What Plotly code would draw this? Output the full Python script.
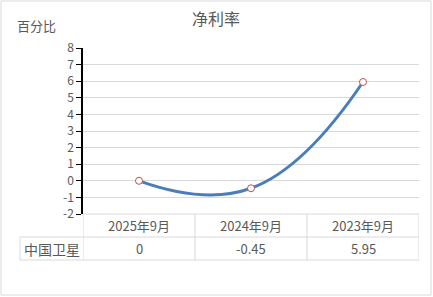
import plotly.graph_objects as go

categories = ["2025年9月", "2024年9月", "2023年9月"]
values = [0, -0.45, 5.95]
value_labels = ["0", "-0.45", "5.95"]
series_name = "中国卫星"
y_ticks = list(range(-2, 9))

FONT = "Noto Sans CJK SC, Microsoft YaHei, sans-serif"
GRAY = "#595959"
GRID = "#d9d9d9"

xs = list(range(len(categories)))

fig = go.Figure()
fig.add_trace(go.Scatter(
    x=xs, y=values, mode="lines+markers",
    line=dict(color="#4a7ebb", width=3, shape="spline", smoothing=1.3),
    marker=dict(symbol="circle", size=7, color="white",
                line=dict(color="#c0504d", width=1)),
    showlegend=False, hoverinfo="skip",
))

# plot-area pixel geometry
L, R, T, B = 83, 14, 48, 83
W, H = 433, 297
PH = H - T - B
def py(p):
    return (H - B - p) / PH
def px(p):
    return (p - L) / (W - L - R)

shapes = []
row1 = py(237)
row2 = py(260)
shapes.append(dict(type="line", xref="x", yref="paper", x0=-0.5, x1=2.5, y0=0, y1=0,
                   line=dict(color=GRID, width=1)))
shapes.append(dict(type="line", xref="paper", yref="paper", x0=px(20), x1=1, y0=row1, y1=row1,
                   line=dict(color=GRID, width=1)))
shapes.append(dict(type="line", xref="paper", yref="paper", x0=px(20), x1=1, y0=row2, y1=row2,
                   line=dict(color=GRID, width=1)))
for b in [-0.5, 0.5, 1.5, 2.5]:
    shapes.append(dict(type="line", xref="x", yref="paper", x0=b, x1=b, y0=0, y1=row2,
                       line=dict(color=GRID, width=1)))
shapes.append(dict(type="line", xref="paper", yref="paper", x0=px(20), x1=px(20), y0=row1, y1=row2,
                   line=dict(color=GRID, width=1)))
shapes.append(dict(type="rect", xref="paper", yref="paper", x0=px(1), x1=px(431), y0=py(1), y1=py(295),
                   line=dict(color="#d9d9d9", width=1), layer="below"))

annotations = []
for i, c in enumerate(categories):
    annotations.append(dict(x=i, y=(0 + row1) / 2, xref="x", yref="paper", text=c, showarrow=False,
                            xanchor="center", yanchor="middle",
                            font=dict(family=FONT, size=13, color=GRAY)))
    annotations.append(dict(x=i, y=(row1 + row2) / 2, xref="x", yref="paper", text=value_labels[i],
                            showarrow=False, xanchor="center", yanchor="middle",
                            font=dict(family=FONT, size=13, color=GRAY)))
annotations.append(dict(x=px(51.5), y=(row1 + row2) / 2, xref="paper", yref="paper", text=series_name,
                        showarrow=False, xanchor="center", yanchor="middle",
                        font=dict(family=FONT, size=14, color=GRAY)))
annotations.append(dict(x=px(37), y=py(25), xref="paper", yref="paper", text="百分比",
                        showarrow=False, xanchor="center", yanchor="middle",
                        font=dict(family=FONT, size=13, color=GRAY)))
annotations.append(dict(x=px(216), y=py(18), xref="paper", yref="paper", text="净利率",
                        showarrow=False, xanchor="center", yanchor="middle",
                        font=dict(family=FONT, size=16, color=GRAY)))

fig.update_layout(
    width=W, height=H,
    margin=dict(l=L, r=R, t=T, b=B),
    paper_bgcolor="white", plot_bgcolor="white",
    xaxis=dict(range=[-0.5, 2.5], showticklabels=False, showgrid=False, zeroline=False,
               showline=False, fixedrange=True),
    yaxis=dict(range=[-2, 8], tickvals=y_ticks, ticktext=[str(v) for v in y_ticks],
               showgrid=True, gridcolor=GRID, gridwidth=1, zeroline=False,
               showline=True, linecolor="black", linewidth=1.5,
               ticks="outside", ticklen=5, tickcolor="black",
               tickfont=dict(family=FONT, size=12, color=GRAY), fixedrange=True),
    shapes=shapes, annotations=annotations,
)

fig.write_html("out.html")
